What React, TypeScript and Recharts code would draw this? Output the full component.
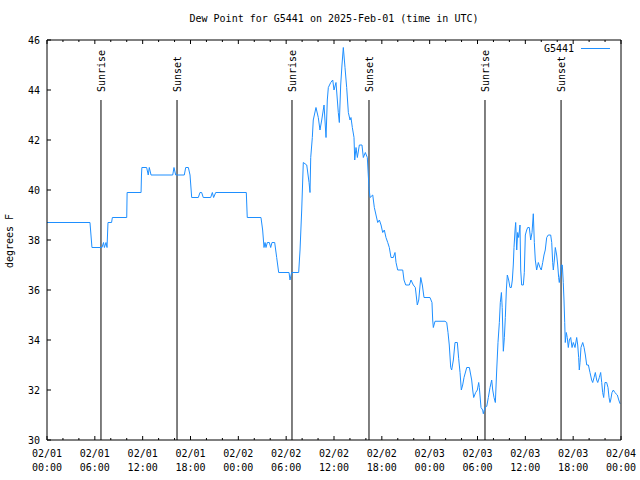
import React from 'react';
import { LineChart, Line, XAxis, YAxis, ReferenceLine } from 'recharts';

// hours since 2025-02-01 00:00 UTC
const hours = [
  0, 5.39, 5.64, 6.9, 7.09, 7.2, 7.4, 7.53, 7.65, 8.1, 8.2, 10.0, 10.05, 11.8, 11.85, 11.9,
  12.5, 12.7, 12.83, 13.05, 15.77, 15.93, 16.14, 17.22, 17.4, 17.73, 17.94, 18.15, 18.98, 19.19,
  19.4, 19.6, 20.53, 20.74, 20.9, 21.16, 25.0, 25.12, 26.84, 27.05, 27.22, 27.35, 27.47, 27.64,
  27.89, 28.06, 28.22, 28.56, 28.81, 29.06, 30.36, 30.48, 30.69, 31.57, 31.74, 31.95, 32.15,
  32.58, 32.87, 32.99, 33.08, 33.28, 33.4, 33.74, 34.03, 34.24, 34.46, 34.75, 35.0, 35.16, 35.29,
  35.59, 35.84, 36.0, 36.25, 36.54, 36.67, 36.84, 37.0, 37.17, 37.38, 37.59, 37.8, 38.01, 38.13,
  38.3, 38.51, 38.6, 38.76, 38.93, 39.18, 39.51, 39.68, 39.93, 40.18, 40.39, 40.52, 40.86, 41.06,
  41.27, 41.48, 41.69, 41.9, 42.11, 42.31, 42.52, 42.74, 42.94, 43.15, 43.44, 43.65, 43.78, 43.99,
  44.62, 44.78, 45.0, 45.45, 45.66, 45.95, 46.2, 46.45, 46.63, 46.88, 47.08, 47.29, 48.04, 48.29,
  48.38, 48.46, 48.67, 49.92, 50.14, 50.3, 50.46, 50.64, 50.76, 50.97, 51.18, 51.47, 51.64, 51.81,
  51.97, 52.14, 52.31, 52.65, 52.98, 53.27, 53.4, 53.52, 53.77, 53.98, 54.15, 54.23, 54.44, 54.65,
  54.73, 54.94, 55.16, 55.36, 55.57, 55.78, 55.91, 56.07, 56.24, 56.41, 56.57, 56.74, 56.86, 57.0,
  57.1, 57.24, 57.37, 57.49, 57.62, 57.74, 57.91, 58.08, 58.24, 58.37, 58.49, 58.58, 58.71, 58.79,
  58.92, 59.04, 59.17, 59.33, 59.42, 59.54, 59.75, 59.87, 60.0, 60.17, 60.3, 60.5, 60.67, 60.84,
  61.0, 61.13, 61.25, 61.42, 61.63, 61.84, 62.0, 62.18, 62.34, 62.5, 62.68, 62.88, 63.18, 63.31,
  63.43, 63.51, 63.64, 63.76, 63.93, 64.06, 64.18, 64.26, 64.39, 64.51, 64.64, 64.76, 64.85, 64.94,
  65.01, 65.14, 65.26, 65.39, 65.52, 65.69, 65.86, 66.02, 66.23, 66.44, 66.57, 66.69, 66.77, 66.86,
  66.98, 67.2, 67.37, 67.53, 67.7, 67.91, 68.11, 68.32, 68.45, 68.62, 68.78, 68.95, 69.08, 69.28,
  69.45, 69.58, 69.7, 69.83, 69.99, 70.2, 70.37, 70.5, 70.62, 70.71, 70.87, 71.04, 71.22, 71.54,
  71.72, 71.88,
];

const dewPoint = [
  38.7, 38.7, 37.7, 37.7, 37.9, 37.7, 37.9, 37.7, 38.7, 38.7, 38.9, 38.9, 39.9, 39.9, 40.6, 40.9,
  40.9, 40.6, 40.9, 40.6, 40.6, 40.9, 40.6, 40.6, 40.9, 40.9, 40.6, 39.7, 39.7, 39.9,
  39.9, 39.7, 39.7, 39.9, 39.7, 39.9, 39.9, 38.9, 38.9, 38.4, 37.7, 37.9, 37.7, 37.9,
  37.9, 37.7, 37.9, 37.9, 37.3, 36.7, 36.7, 36.4, 36.7, 36.7, 37.6, 39.2, 41.1,
  41.0, 40.3, 39.9, 41.3, 42.1, 42.8, 43.3, 42.9, 42.4, 42.8, 43.4, 42.1, 43.6, 44.1,
  44.3, 44.4, 44.0, 44.3, 43.1, 42.7, 44.2, 45.0, 45.7, 44.9, 44.1, 43.1, 42.8, 42.9,
  42.5, 42.1, 41.2, 41.7, 41.3, 41.8, 41.8, 41.3, 41.5, 41.3, 40.1, 39.7, 39.8, 39.3,
  39.0, 38.7, 38.8, 38.6, 38.3, 38.4, 38.1, 37.9, 37.7, 37.3, 37.3, 37.5, 37.1, 36.8,
  36.8, 36.4, 36.2, 36.2, 36.4, 36.2, 36.1, 35.4, 35.6, 36.5, 36.2, 35.7, 35.7, 35.5,
  34.8, 34.5, 34.75, 34.75, 34.7, 34.3, 33.8, 32.9, 32.8, 33.2, 33.9, 33.9, 33.25, 32.7,
  32.0, 32.2, 32.5, 32.9, 32.9, 32.4, 32.0, 31.7, 31.9, 32.0, 32.3, 32.1, 31.3, 31.2,
  31.05, 31.3, 31.35, 31.7, 32.1, 32.4, 32.0, 31.7, 31.5, 32.8, 33.9, 34.7, 35.5, 35.9,
  35.3, 33.55, 34.1, 34.9, 36.0, 36.6, 36.4, 36.1, 36.1, 36.4, 37.0, 37.7, 38.4, 38.7,
  37.6, 38.3, 38.1, 38.6, 36.8, 36.2, 36.2, 36.7, 38.2, 38.4, 38.5, 38.5, 38.0, 38.3,
  39.05, 37.9, 37.2, 36.8, 37.1, 36.9, 36.8, 37.1, 37.4, 37.6, 38.1, 38.2, 38.2, 37.9,
  37.1, 36.8, 37.2, 37.7, 37.4, 37.0, 36.5, 36.3, 36.6, 37.0, 37.0, 36.3, 35.6, 34.7,
  33.9, 34.3, 34.1, 33.7, 34.0, 34.1, 33.7, 33.9, 33.7, 34.1, 33.8, 33.3, 32.8, 33.1,
  33.7, 33.9, 33.7, 33.4, 33.0, 33.0, 32.7, 32.4, 32.3, 32.5, 32.7, 32.4, 32.3, 32.5,
  32.7, 32.3, 31.9, 31.7, 32.3, 32.3, 32.1, 31.7, 31.5, 31.6, 31.9, 32.0, 31.9, 31.8,
  31.6, 31.45,
];

const sunHours = [6.77, 16.31, 30.73, 40.39, 54.94, 64.48];
const sunNames = ['Sunrise', 'Sunset', 'Sunrise', 'Sunset', 'Sunrise', 'Sunset'];

const xTicks = [
  0, 2, 4, 6, 8, 10, 12, 14, 16, 18, 20, 22, 24, 26, 28, 30, 32, 34, 36,
  38, 40, 42, 44, 46, 48, 50, 52, 54, 56, 58, 60, 62, 64, 66, 68, 70, 72,
];
const dayLabels = ['02/01', '02/01', '02/01', '02/01', '02/02', '02/02', '02/02', '02/02', '02/03', '02/03', '02/03', '02/03', '02/04'];
const timeLabels = ['00:00', '06:00', '12:00', '18:00', '00:00', '06:00', '12:00', '18:00', '00:00', '06:00', '12:00', '18:00', '00:00'];
const yTicks = [30, 32, 34, 36, 38, 40, 42, 44, 46];

const data = hours.map((h, i) => ({ h, dew: dewPoint[i] }));

const FONT = '"DejaVu Sans Mono", monospace';
const LINE_COLOR = '#1e8fff';
const SUN_LINE_TOP = 43.6;

const BottomTick = (props: any) => {
  const { x, y, payload } = props;
  const major = payload.value % 6 === 0;
  const i = payload.value / 6;
  return (
    <g>
      <line x1={x} x2={x} y1={y} y2={y - (major ? 4 : 2)} stroke="#000" />
      {major && (
        <text x={x} y={y + 17} textAnchor="middle" fontFamily={FONT} fontSize={10} fill="#000">
          {dayLabels[i]}
        </text>
      )}
      {major && (
        <text x={x} y={y + 31} textAnchor="middle" fontFamily={FONT} fontSize={10} fill="#000">
          {timeLabels[i]}
        </text>
      )}
    </g>
  );
};

const TopTick = (props: any) => {
  const { x, y, payload } = props;
  const major = payload.value % 6 === 0;
  return <line x1={x} x2={x} y1={y} y2={y + (major ? 4 : 2)} stroke="#000" />;
};

const LeftTick = (props: any) => {
  const { x, y, payload } = props;
  return (
    <g>
      <line x1={x} x2={x + 4} y1={y} y2={y} stroke="#000" />
      <text x={x - 7} y={y + 3.5} textAnchor="end" fontFamily={FONT} fontSize={10} fill="#000">
        {payload.value}
      </text>
    </g>
  );
};

const RightTick = (props: any) => {
  const { x, y } = props;
  return <line x1={x} x2={x - 4} y1={y} y2={y} stroke="#000" />;
};

const sunLabel = (name: string) => (props: any) => {
  const vb = props.viewBox || {};
  const x = vb.x + 4;
  const y = vb.y - 8;
  return (
    <text
      x={x}
      y={y}
      transform={`rotate(-90 ${x} ${y})`}
      textAnchor="start"
      fontFamily={FONT}
      fontSize={10}
      fill="#000"
    >
      {name}
    </text>
  );
};

export default function App() {
  return (
    <div style={{ position: 'absolute', left: 0, top: 0, width: 640, height: 480, background: '#fff' }}>
      <LineChart width={640} height={480} data={data} margin={{ top: 0, right: 0, bottom: 0, left: 0 }}>
        <XAxis
          xAxisId="bottom"
          dataKey="h"
          type="number"
          domain={[0, 72]}
          ticks={xTicks}
          interval={0}
          height={40}
          tickSize={0}
          tickMargin={0}
          tick={<BottomTick />}
          axisLine={{ stroke: '#000' }}
        />
        <XAxis
          xAxisId="top"
          orientation="top"
          dataKey="h"
          type="number"
          domain={[0, 72]}
          ticks={xTicks}
          interval={0}
          height={40}
          tickSize={0}
          tickMargin={0}
          tick={<TopTick />}
          axisLine={{ stroke: '#000' }}
        />
        <YAxis
          yAxisId="left"
          type="number"
          domain={[30, 46]}
          ticks={yTicks}
          interval={0}
          width={47}
          tickSize={0}
          tickMargin={0}
          tick={<LeftTick />}
          axisLine={{ stroke: '#000' }}
        />
        <YAxis
          yAxisId="right"
          orientation="right"
          type="number"
          domain={[30, 46]}
          ticks={yTicks}
          interval={0}
          width={19}
          tickSize={0}
          tickMargin={0}
          tick={<RightTick />}
          axisLine={{ stroke: '#000' }}
        />
        {sunHours.map((h, i) => (
          <ReferenceLine
            key={i}
            xAxisId="bottom"
            yAxisId="left"
            segment={[{ x: h, y: 30 }, { x: h, y: SUN_LINE_TOP }]}
            stroke="#000"
            strokeWidth={1}
            label={sunLabel(sunNames[i])}
          />
        ))}
        <Line
          xAxisId="bottom"
          yAxisId="left"
          type="linear"
          dataKey="dew"
          stroke={LINE_COLOR}
          strokeWidth={1}
          dot={false}
          isAnimationActive={false}
        />
      </LineChart>
      <div
        style={{
          position: 'absolute', left: 47, top: 14, width: 574, textAlign: 'center',
          fontFamily: FONT, fontSize: 10, lineHeight: '10px', color: '#000',
        }}
      >
        Dew Point for G5441 on 2025-Feb-01 (time in UTC)
      </div>
      <div
        style={{
          position: 'absolute', left: -30, top: 236, width: 80, height: 10, textAlign: 'center',
          whiteSpace: 'nowrap', fontFamily: FONT, fontSize: 10, lineHeight: '10px', color: '#000',
          transform: 'rotate(-90deg)',
        }}
      >
        degrees F
      </div>
      <div
        style={{
          position: 'absolute', left: 500, top: 44, width: 74, textAlign: 'right',
          fontFamily: FONT, fontSize: 10, lineHeight: '10px', color: '#000',
        }}
      >
        G5441
      </div>
      <div style={{ position: 'absolute', left: 581, top: 48, width: 29, height: 1, background: LINE_COLOR }} />
    </div>
  );
}
